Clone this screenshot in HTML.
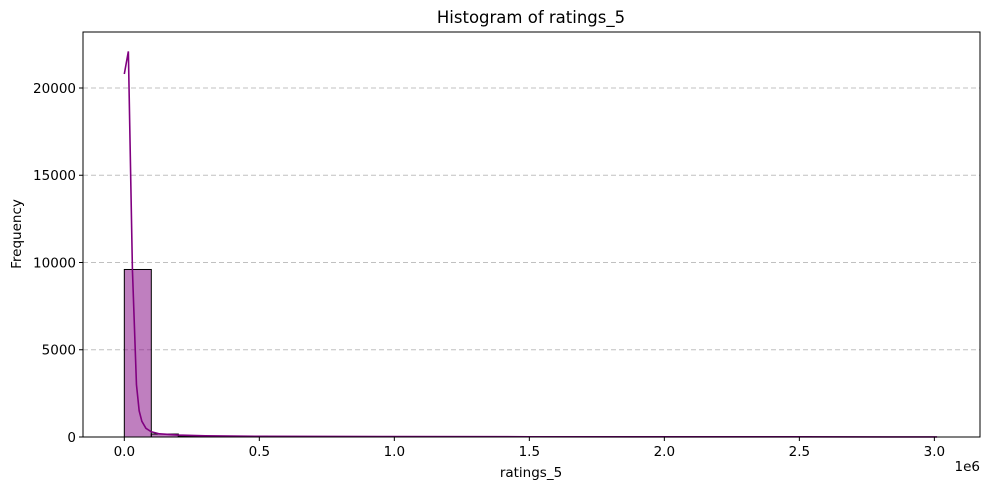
<!DOCTYPE html>
<html><head><meta charset="utf-8"><style>
body{margin:0;background:#fff;font-family:"DejaVu Sans","Liberation Sans",sans-serif;}
svg text{font-family:"DejaVu Sans","Liberation Sans",sans-serif;}
</style></head><body>
<svg id="chart" width="989" height="490" xmlns="http://www.w3.org/2000/svg">
<rect width="989" height="490" fill="#fff"/>
<g id="grid"></g><g id="bars"></g><g id="kde"></g><g id="axes"></g>
<text x="531" y="23" text-anchor="middle" font-size="16.5">Histogram of ratings_5</text>
<text x="531" y="477" text-anchor="middle" font-size="13.5">ratings_5</text>
<text x="980" y="471" text-anchor="end" font-size="13.5">1e6</text>
<text x="21" y="234" text-anchor="middle" font-size="13.5" transform="rotate(-90 21 234)">Frequency</text>
</svg>
<script>
const binEdgesStart = 0, binWidth = 0.1;
const binCounts = [9600,170,60,30,20,12,10,8,6,5,4,4,3,3,3,2,2,2,2,2,1,1,1,1,1,1,1,1,1,1];
const kdeX = [0,0.015,0.03,0.045,0.055,0.065,0.08,0.1,0.13,0.2,0.3,0.5,1.0,1.5,2.0,2.5,3.01];
const kdeY = [20800,22100,9600,3000,1500,900,500,300,180,110,70,40,25,15,10,8,5];
const xTicks = [0,0.5,1.0,1.5,2.0,2.5,3.0];
const xTickLabels = ["0.0","0.5","1.0","1.5","2.0","2.5","3.0"];
const yTicks = [0,5000,10000,15000,20000];
const yTickLabels = ["0","5000","10000","15000","20000"];
const L=83,R=980,T=32,B=437;
const xMin=-0.153,xMax=3.169,yMax=23209;
const xs=v=>L+(v-xMin)/(xMax-xMin)*(R-L);
const ys=v=>B-v/yMax*(B-T);
const NS="http://www.w3.org/2000/svg";
function mk(p,t,a){const e=document.createElementNS(NS,t);for(const k in a)e.setAttribute(k,a[k]);p.appendChild(e);return e;}
const grid=document.getElementById('grid'),bars=document.getElementById('bars'),kde=document.getElementById('kde'),axes=document.getElementById('axes');
yTicks.forEach((v,i)=>{
 if(v>0){const g=mk(grid,'line',{x1:L,x2:R,y1:ys(v),y2:ys(v),stroke:'#c0c0c0','stroke-dasharray':'5,3','stroke-width':0.9});
 
 }
 mk(axes,'line',{x1:L-4,x2:L,y1:ys(v),y2:ys(v),stroke:'#000'});
 const t=mk(axes,'text',{x:L-7,y:ys(v)+5,'text-anchor':'end','font-size':13.5});t.textContent=yTickLabels[i];
 
 
});
xTicks.forEach((v,i)=>{
 mk(axes,'line',{x1:xs(v),x2:xs(v),y1:B,y2:B+4,stroke:'#000'});
 const t=mk(axes,'text',{x:xs(v),y:B+19,'text-anchor':'middle','font-size':13.5});t.textContent=xTickLabels[i];
 
 
});
binCounts.forEach((c,i)=>{
 const x0=xs(binEdgesStart+i*binWidth),x1=xs(binEdgesStart+(i+1)*binWidth);
 const r=mk(bars,'rect',{x:x0,y:ys(c),width:x1-x0,height:B-ys(c),fill:'rgba(128,0,128,0.5)',stroke:'#000','stroke-width':1});
 
 
});
const p=mk(kde,'path',{d:kdeX.map((x,i)=>(i?'L':'M')+xs(x)+','+ys(kdeY[i])).join(''),fill:'none',stroke:'#800080','stroke-width':1.6});


const f=mk(axes,'rect',{x:L,y:T,width:R-L,height:B-T,fill:'none',stroke:'#000','stroke-width':1});


</script>
</body></html>
